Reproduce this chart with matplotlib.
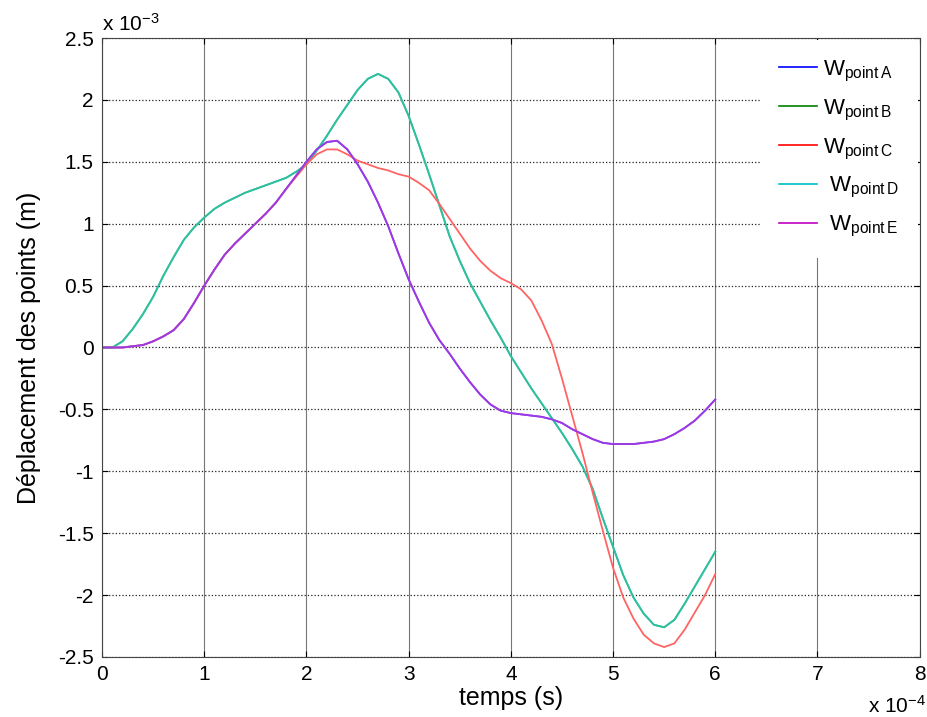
import numpy as np
import matplotlib
matplotlib.use('Agg')
import matplotlib.pyplot as plt
from matplotlib.lines import Line2D
from matplotlib.ticker import FuncFormatter

plt.rcParams['font.family'] = ['Liberation Sans', 'DejaVu Sans']
plt.rcParams['mathtext.fontset'] = 'custom'
plt.rcParams['mathtext.rm'] = 'Liberation Sans'
plt.rcParams['mathtext.it'] = 'Liberation Sans'

# time in units of 1e-4 s, displacement in units of 1e-3 m
t = np.arange(61) * 0.1

w_a = [0, 0, 0, 0.01, 0.02, 0.05, 0.09, 0.14, 0.23, 0.36,
       0.50, 0.63, 0.75, 0.84, 0.92, 1.00, 1.08, 1.17, 1.28, 1.39,
       1.50, 1.60, 1.66, 1.67, 1.60, 1.48, 1.34, 1.17, 0.98, 0.76,
       0.55, 0.37, 0.20, 0.06, -0.05, -0.17, -0.28, -0.38, -0.46, -0.51,
       -0.53, -0.54, -0.55, -0.56, -0.58, -0.61, -0.66, -0.70, -0.74, -0.77,
       -0.78, -0.78, -0.78, -0.77, -0.76, -0.74, -0.70, -0.65, -0.59, -0.51,
       -0.42]
w_e = list(w_a)

w_b = [0, 0, 0.05, 0.15, 0.27, 0.41, 0.58, 0.73, 0.87, 0.97,
       1.05, 1.12, 1.17, 1.21, 1.25, 1.28, 1.31, 1.34, 1.37, 1.42,
       1.48, 1.59, 1.71, 1.84, 1.96, 2.08, 2.17, 2.21, 2.17, 2.06,
       1.87, 1.64, 1.40, 1.15, 0.90, 0.70, 0.52, 0.37, 0.22, 0.08,
       -0.07, -0.20, -0.33, -0.45, -0.57, -0.69, -0.82, -0.96, -1.14, -1.38,
       -1.61, -1.84, -2.02, -2.15, -2.24, -2.26, -2.20, -2.07, -1.93, -1.79,
       -1.65]
w_d = list(w_b)

w_c = [0, 0, 0, 0.01, 0.02, 0.05, 0.09, 0.14, 0.23, 0.36,
       0.50, 0.63, 0.75, 0.84, 0.92, 1.00, 1.08, 1.17, 1.28, 1.38,
       1.48, 1.56, 1.60, 1.60, 1.56, 1.51, 1.48, 1.45, 1.43, 1.40,
       1.38, 1.33, 1.27, 1.16, 1.04, 0.92, 0.80, 0.70, 0.62, 0.56,
       0.52, 0.47, 0.38, 0.22, 0.03, -0.25, -0.55, -0.85, -1.17, -1.48,
       -1.78, -2.02, -2.19, -2.32, -2.39, -2.42, -2.39, -2.28, -2.14, -2.00,
       -1.83]

labels = ['W$_{\\rm point\\,A}$', 'W$_{\\rm point\\,B}$', 'W$_{\\rm point\\,C}$',
          ' W$_{\\rm point\\,D}$', ' W$_{\\rm point\\,E}$']
legend_colors = ['#0000ff', '#008000', '#ff0000', '#00bfbf', '#bf00bf']

x = t * 1e-4
fig = plt.figure(figsize=(9.28, 7.17), dpi=100)
ax = fig.add_axes([0.110, 0.0837, 0.881, 0.8633])

ax.plot(x, np.array(w_a) * 1e-3, color='#9a3ae6', lw=1.3)
ax.plot(x, np.array(w_b) * 1e-3, color='#2fbf9f', lw=1.3)
ax.plot(x, np.array(w_d) * 1e-3, color='#2fbf9f', lw=1.3)
ax.plot(x, np.array(w_c) * 1e-3, color='#ff6464', lw=1.3)
ax.plot(x, np.array(w_e) * 1e-3, color='#9a3ae6', lw=1.3)

ax.set_xlim(0, 8e-4)
ax.set_ylim(-2.5e-3, 2.5e-3)
ax.set_xticks(np.arange(0, 9) * 1e-4)
ax.set_yticks(np.arange(-5, 6) * 0.5e-3)
ax.xaxis.set_major_formatter(FuncFormatter(lambda v, p: '%g' % round(v / 1e-4, 3)))
ax.yaxis.set_major_formatter(FuncFormatter(lambda v, p: '%g' % round(v / 1e-3, 3)))
ax.tick_params(direction='in', top=True, right=True, labelsize=15, length=4, pad=6)

ax.xaxis.grid(True, color='#777777', linestyle='-', lw=0.8)
ax.yaxis.grid(True, color='#222222', linestyle=':', lw=0.9)
for s in ax.spines.values():
    s.set_color('#444444')

ax.set_xlabel('temps (s)', fontsize=18, labelpad=1)
ax.set_ylabel('Déplacement des points (m)', fontsize=18, labelpad=12)
fig.text(0.110, 0.952, 'x 10$^{-3}$', fontsize=15, ha='left', va='bottom')
fig.text(0.935, 0.0, 'x 10$^{-4}$', fontsize=15, ha='left', va='bottom')

handles = [Line2D([], [], color=c, lw=1.2) for c in legend_colors]
leg = ax.legend(handles, labels, loc='upper right', bbox_to_anchor=(0.998, 0.997),
                frameon=True, fancybox=False, facecolor='white', edgecolor='none',
                framealpha=1, fontsize=16, labelspacing=0.62, handlelength=1.7,
                handletextpad=0.3, borderpad=0.85, borderaxespad=0.0)

plt.savefig('out.png', dpi=100)
plt.close()
